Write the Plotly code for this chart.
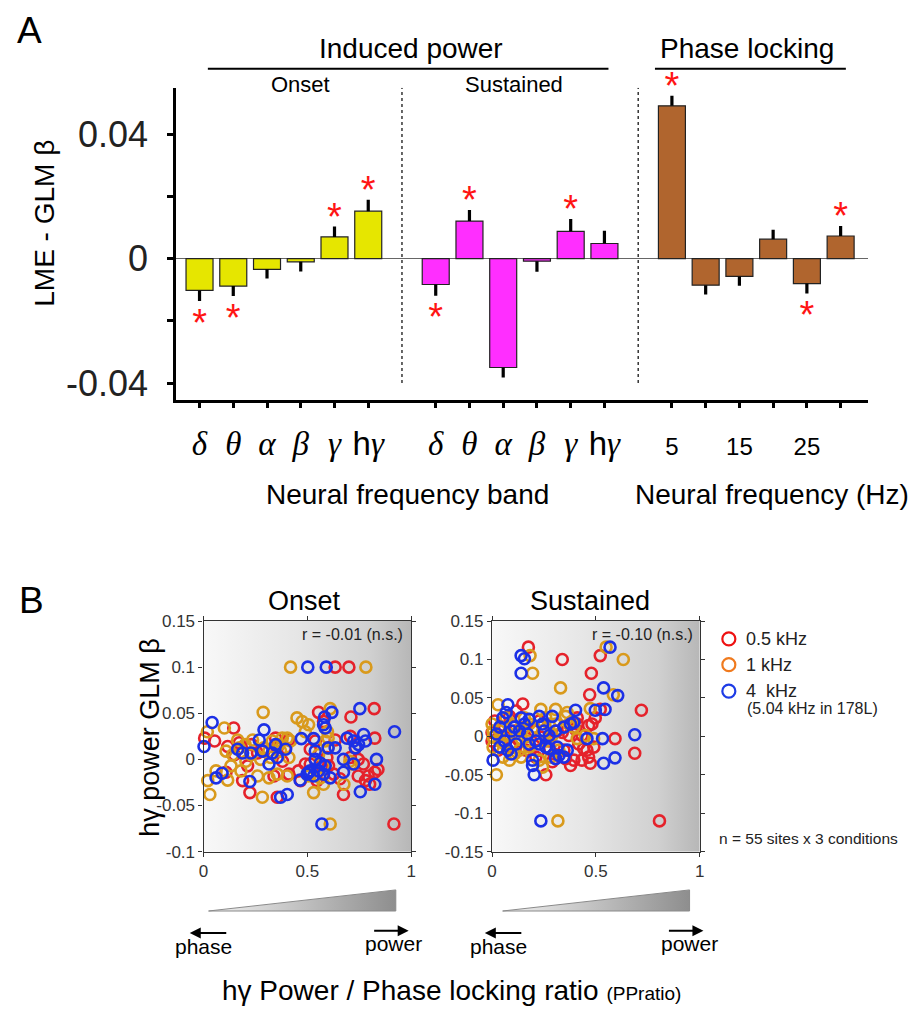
import plotly.graph_objects as go

W, H = 921, 1019
OFF = 8  # page body margin
def px(x): return (x - OFF) / W
def py(y): return 1 - (y - OFF) / H

FONT = "Liberation Sans"

# ---------------- Panel A data ----------------
band_labels = ['δ', 'θ', 'α', 'β', 'γ', 'hγ']
phase_freqs = [5, 10, 15, 20, 25, 30]
phase_tick_labels = ['5', '', '15', '', '25', '']

onset_beta = [-0.0102, -0.0088, -0.0034, -0.0010, 0.0070, 0.0153]
onset_err = [0.0034, 0.0032, 0.0030, 0.0031, 0.0034, 0.0037]
onset_sig = [1, 1, 0, 0, 1, 1]

sust_beta = [-0.0083, 0.0121, -0.0350, -0.0008, 0.0088, 0.0049]
sust_err = [0.0036, 0.0036, 0.0032, 0.0034, 0.0040, 0.0041]
sust_sig = [1, 1, 1, 0, 1, 0]

phase_beta = [0.0492, -0.0085, -0.0057, 0.0063, -0.0080, 0.0073]
phase_err = [0.0032, 0.0030, 0.0030, 0.0030, 0.0032, 0.0032]
phase_sig = [1, 0, 0, 0, 1, 1]

# ---------------- Panel B data ----------------
on_red_x = [0.634,0.70,0.917,0.822,0.71,0.554,0.578,0.145,0.005,0.116,0.232,0.347,0.411,0.355,0.212,0.188,0.223,0.355,0.411,0.467,0.514,0.538,0.514,0.57,0.594,0.657,0.674,0.745,0.745,0.825,0.793,0.825,0.8,0.634,0.732,0.707,0.108,0.148,0.29,0.395,0.554,0.602,0.49,0.707,0.77,0.053,0.457,0.339,0.26,0.172,0.84,0.78,0.546,0.627,0.38]
on_red_y = [0.1,0.1,-0.07,0.055,0.046,0.051,0.041,0.034,0.023,0.014,0.016,0.023,0.021,0.0125,-0.007,-0.023,-0.036,-0.041,-0.016,-0.023,0.011,0.02,-0.005,-0.007,0.002,-0.021,-0.038,0,-0.018,0.023,-0.018,-0.014,-0.027,0.021,0.0125,0.002,-0.014,0.005,0.009,0.0125,-0.0125,-0.007,-0.005,0.025,-0.005,0.02,-0.0125,-0.018,0.007,0.018,-0.011,-0.023,-0.023,-0.016,-0.002]
on_gold_x = [0.419,0.782,0.287,0.61,0.10,0.45,0.475,0.506,0.49,0.018,0.164,0.108,0.236,0.29,0.379,0.403,0.419,0.363,0.586,0.597,0.6,0.323,0.275,0.18,0.26,0.315,0.355,0.403,0.02,0.116,0.03,0.283,0.53,0.578,0.61,0.705,0.713,0.538,0.506,0.204,0.14,0.228,0.331,0.371,0.2,0.578,0.562,0.06,0.172,0.6,0.554,0.411,0.132,0.315,0.676]
on_gold_y = [0.1,0.1,0.051,0.055,0.034,0.045,0.041,0.0375,0.03,0.03,0.021,0.009,0.021,0.0125,0.023,0.023,0.02,0.016,0.02,0.03,0.0125,0.002,0,-0.0125,-0.018,-0.02,-0.016,-0.018,-0.023,-0.0225,-0.038,-0.041,-0.036,-0.027,-0.07,-0.002,-0.005,-0.011,-0.018,-0.002,0.005,0.005,0.02,0.009,0.016,-0.007,-0.02,-0.0125,0.0125,0.023,0.005,0.002,-0.007,0.009,-0.027]
on_blue_x = [0.502,0.591,0.57,0.92,0.753,0.618,0.583,0.578,0.586,0.041,0.002,0.06,0.089,0.164,0.228,0.223,0.268,0.291,0.283,0.315,0.347,0.355,0.395,0.371,0.403,0.471,0.53,0.538,0.538,0.465,0.498,0.506,0.53,0.554,0.578,0.61,0.6,0.634,0.674,0.674,0.691,0.723,0.731,0.723,0.771,0.78,0.833,0.825,0.755,0.747,0.586,0.562,0.188,0.331,0.514]
on_blue_y = [0.1,0.1,-0.07,0.03,0.055,0.051,0.046,0.0375,0.034,0.04,0.014,-0.02,-0.015,0.011,0.007,-0.024,0.021,0.032,0.009,-0.005,0.016,0.002,0.011,-0.041,-0.038,0.0225,0.0225,0.009,0,-0.0225,-0.016,-0.014,-0.018,-0.0125,-0.016,-0.02,0.0125,0.0125,0,-0.014,0.023,0.02,0.0125,-0.005,0.027,0.02,0,-0.027,-0.035,0.016,-0.007,-0.004,0.007,0.007,-0.0125]

su_red_x = [0.175,0.338,0.521,0.478,0.47,0.719,0.806,0.687,0.592,0.148,0.116,0.013,0.0,0.0,0.092,0.179,0.227,0.227,0.259,0.29,0.354,0.378,0.338,0.41,0.433,0.465,0.481,0.497,0.457,0.473,0.465,0.49,0.441,0.521,0.402,0.163,0.203,0.06,0.275,0.298,0.132,0.314,0.417,0.037,0.235,0.37,0.029,0.108,0.394,0.346,0.211,0.433,0.084,0.163,0.41]
su_red_y = [0.116,0.1,0.105,0.082,0.054,0.034,-0.11,-0.022,-0.003,0.042,0.033,0.02,0.005,-0.006,-0.014,-0.012,0.02,-0.018,-0.05,-0.033,-0.029,-0.038,0.005,0.024,0.001,0.014,0.016,0.024,-0.018,-0.035,-0.027,-0.014,-0.016,0.035,0.009,0.012,0.007,0.012,-0.006,-0.023,-0.006,0.007,-0.01,0.001,-0.001,0.001,-0.018,0.007,-0.031,-0.018,-0.027,-0.031,0.026,-0.018,0.016]
su_gold_x = [0.183,0.195,0.33,0.632,0.549,0.584,0.473,0.021,0.317,0.029,0.0,0.005,0.005,0.037,0.092,0.084,0.132,0.14,0.156,0.179,0.235,0.259,0.243,0.227,0.243,0.306,0.362,0.354,0.37,0.394,0.41,0.037,0.06,0.116,0.171,0.29,0.275,0.211,0.14,0.068,0.322,0.203,0.005,0.449,0.108,0.283,0.179,0.052,0.068,0.346,0.306,0.259,0.148,0.386,0.489]
su_gold_y = [0.105,0.082,0.063,0.1,0.116,0.054,0.036,-0.05,-0.11,0.041,0.016,-0.001,-0.014,0.007,0.016,-0.031,-0.018,-0.027,0.024,0.016,0.035,0.024,0.007,-0.031,-0.04,0.035,0.031,0.026,0.016,0.012,-0.003,-0.006,-0.01,0.003,-0.006,0.001,0.016,-0.006,-0.003,0.024,-0.018,0.012,0.007,0.001,-0.023,-0.027,-0.014,-0.027,0.001,0.012,0.016,-0.006,0.009,0.02,-0.003]
su_blue_x = [0.568,0.14,0.156,0.14,0.537,0.605,0.497,0.544,0.687,0.592,0.537,0.532,0.457,0.235,0.005,0.076,0.068,0.037,0.06,0.076,0.092,0.037,0.108,0.132,0.156,0.179,0.195,0.195,0.203,0.211,0.227,0.243,0.259,0.275,0.29,0.306,0.314,0.322,0.346,0.362,0.378,0.394,0.402,0.306,0.251,0.171,0.092,0.052,0.021,0.227,0.116,0.179,0.275,0.14,0.346]
su_blue_y = [0.116,0.105,0.101,0.082,0.063,0.053,0.034,0.035,0.002,-0.028,-0.035,-0.003,-0.003,-0.11,-0.031,0.041,0.031,0.012,-0.006,-0.018,-0.023,-0.014,0.012,0.007,0.016,0.022,-0.031,-0.038,-0.05,-0.006,-0.01,0.016,-0.014,0.001,0.026,-0.029,-0.014,-0.025,0.012,-0.018,0.016,0.018,0.034,0.007,0.007,0.003,0.007,0.024,0.003,0.026,-0.01,-0.01,-0.016,0.024,-0.027]

r_onset = -0.01
r_sust = -0.10
legend_names = ['0.5 kHz', '1 kHz', '4\u00a0 kHz']

# ---------------- styles ----------------
BAR_COLORS = ['#E6E600', '#FF2EFF', '#B0652E']
RED, GOLD, BLUE = '#E5222B', '#D99A1C', '#1C30E6'
LEG_COLORS = ['#EE1111', '#F07A1E', '#1E3CE6']
STAR = '#FF1414'

fig = go.Figure()

# ---------------- Panel A ----------------
groups = [(onset_beta, onset_err, onset_sig), (sust_beta, sust_err, sust_sig), (phase_beta, phase_err, phase_sig)]
tickvals, ticktext = [], []
star_x, star_y = [], []
for g, (vals, errs, sig) in enumerate(groups):
    xs = [g * 7 + i for i in range(len(vals))]
    plus = [e if v >= 0 else 0 for v, e in zip(vals, errs)]
    minus = [e if v < 0 else 0 for v, e in zip(vals, errs)]
    fig.add_trace(go.Bar(
        x=xs, y=vals, width=0.8, xaxis='x', yaxis='y',
        marker=dict(color=BAR_COLORS[g], line=dict(color='#222', width=1.2)),
        error_y=dict(type='data', symmetric=False, array=plus, arrayminus=minus,
                     color='black', thickness=3.2, width=0),
        showlegend=False, hoverinfo='skip'))
    for x, v, e, s in zip(xs, vals, errs, sig):
        if s:
            star_x.append(x)
            if v >= 0:
                star_y.append(v + e + 0.0044 - 0.0024)
            else:
                star_y.append(v - e - 0.0057 - 0.0024)
    tickvals += xs
    if g < 2:
        for lab in band_labels:
            if lab.startswith('h'):
                ticktext.append('h<span style="font-family:Liberation Serif"><i>%s</i></span>' % lab[1:])
            else:
                ticktext.append('<span style="font-family:Liberation Serif"><i>%s</i></span>' % lab)
    else:
        for lab in phase_tick_labels:
            ticktext.append('<span style="font-size:24px">%s</span>' % lab)

fig.add_trace(go.Scatter(x=star_x, y=star_y, mode='text', text=['*'] * len(star_x),
                         textposition='middle center', cliponaxis=False,
                         textfont=dict(family=FONT, size=38, color=STAR),
                         xaxis='x', yaxis='y', showlegend=False, hoverinfo='skip'))

# ---------------- Panel B ----------------
def bg(xa, ya, y0, y1):
    fig.add_trace(go.Scatter(x=[0, 1, 1, 0, 0], y=[y0, y0, y1, y1, y0], mode='lines',
                             fill='toself', line=dict(width=0),
                             fillgradient=dict(type='horizontal',
                                               colorscale=[[0, '#f8f8f8'], [0.45, '#e6e6e6'], [0.8, '#d0d0d0'], [1, '#b7b7b7']]),
                             xaxis=xa, yaxis=ya, showlegend=False, hoverinfo='skip'))

bg('x2', 'y2', -0.1, 0.15)
bg('x3', 'y3', -0.15, 0.15)

def pts(xs, ys, c, xa, ya):
    fig.add_trace(go.Scatter(x=xs, y=ys, mode='markers', xaxis=xa, yaxis=ya,
                             marker=dict(symbol='circle-open', size=11, color=c, line=dict(width=2.6)),
                             showlegend=False, hoverinfo='skip', cliponaxis=False))

pts(on_red_x, on_red_y, RED, 'x2', 'y2')
pts(on_gold_x, on_gold_y, GOLD, 'x2', 'y2')
pts(on_blue_x, on_blue_y, BLUE, 'x2', 'y2')
pts(su_red_x, su_red_y, RED, 'x3', 'y3')
pts(su_gold_x, su_gold_y, GOLD, 'x3', 'y3')
pts(su_blue_x, su_blue_y, BLUE, 'x3', 'y3')

# overlay pixel axes (page pixel coordinates): wedges and legend markers
for x0, x1 in [(205.7, 395), (503, 692)]:
    fig.add_trace(go.Scatter(x=[x0, x1, x1, x0], y=[919, 919, 897.5, 919], mode='lines',
                             fill='toself', line=dict(color='#8a8a8a', width=1),
                             fillgradient=dict(type='horizontal', colorscale=[[0, '#f2f2f2'], [1, '#8e8e8e']]),
                             xaxis='x4', yaxis='y4', showlegend=False, hoverinfo='skip'))

leg_y = [641.7, 668, 695]
fig.add_trace(go.Scatter(x=[731.7] * 3, y=leg_y, mode='markers', xaxis='x4', yaxis='y4',
                         marker=dict(symbol='circle-open', size=13, color=LEG_COLORS, line=dict(width=2.2)),
                         showlegend=False, hoverinfo='skip'))

# ---------------- Layout ----------------
tickA = dict(ticks='outside', ticklen=6, tickwidth=2.5, tickcolor='black',
             showline=True, linewidth=2.5, linecolor='black', showgrid=False)
fig.update_layout(
    width=W, height=H, margin=dict(l=0, r=0, t=0, b=0),
    paper_bgcolor='white', plot_bgcolor='rgba(0,0,0,0)',
    font=dict(family=FONT, color='black'),
    xaxis=dict(domain=[px(172.7), px(872)], range=[-0.7, 19.8], anchor='y',
               tickvals=tickvals, ticktext=ticktext, tickfont=dict(size=33, family=FONT),
               ticklabelstandoff=7, zeroline=False, **tickA),
    yaxis=dict(domain=[py(398), py(80)], range=[-0.04537, 0.05503], anchor='x',
               tickvals=[-0.04, -0.02, 0, 0.02, 0.04], ticktext=['-0.04', '', '0', '', '0.04'],
               tickfont=dict(size=36, family=FONT, color='#222'), ticklabelstandoff=12,
               zeroline=True, zerolinecolor='#666', zerolinewidth=1.2, **tickA),
)

tickB = dict(ticks='outside', ticklen=4, tickwidth=1.2, tickcolor='#333', mirror='ticks',
             showline=True, linewidth=1.3, linecolor='#333', showgrid=False, zeroline=False,
             tickfont=dict(size=17, family=FONT, color='#333'))
fig.update_layout(
    xaxis2=dict(domain=[px(200.7), px(410.5)], range=[0, 1], anchor='y2',
                tickvals=[0, 0.5, 1], ticktext=['0', '0.5', '1'], **tickB),
    yaxis2=dict(domain=[py(858.5), py(623.5)], range=[-0.1, 0.15], anchor='x2',
                tickvals=[-0.1, -0.05, 0, 0.05, 0.1, 0.15],
                ticktext=['-0.1', '-0.05', '0', '0.05', '0.1', '0.15'], **tickB),
    xaxis3=dict(domain=[px(492.3), px(702.3)], range=[0, 1], anchor='y3',
                tickvals=[0, 0.5, 1], ticktext=['0', '0.5', '1'], **tickB),
    yaxis3=dict(domain=[py(858.5), py(623.5)], range=[-0.15, 0.15], anchor='x3',
                tickvals=[-0.15, -0.1, -0.05, 0, 0.05, 0.1, 0.15],
                ticktext=['-0.15', '-0.1', '-0.05', '0', '0.05', '0.1', '0.15'], **tickB),
    xaxis4=dict(domain=[0, 1], range=[OFF, W + OFF], anchor='y4', visible=False, fixedrange=True),
    yaxis4=dict(domain=[0, 1], range=[H + OFF, OFF], anchor='x4', visible=False, fixedrange=True),
)

# ---------------- shapes ----------------
shapes = []
for x0, x1 in [(205, 610), (657, 850)]:
    shapes.append(dict(type='line', xref='paper', yref='paper', x0=px(x0), x1=px(x1),
                       y0=py(60.7), y1=py(60.7), line=dict(color='black', width=2)))
for xd in [6, 13]:
    shapes.append(dict(type='line', xref='x', yref='y', x0=xd, x1=xd, y0=-0.04, y1=0.055,
                       line=dict(color='black', width=1.2, dash='dot')))
fig.update_layout(shapes=shapes)

# ---------------- annotations ----------------
ann = []
def T(text, x, y, size, xanchor='center', yanchor='middle', color='black', angle=0, family=FONT):
    ann.append(dict(text=text, x=px(x), y=py(y), xref='paper', yref='paper', showarrow=False,
                    xanchor=xanchor, yanchor=yanchor, textangle=angle,
                    font=dict(size=size, color=color, family=family)))

T('A', 25, 22, 37)
T('B', 27, 603, 37)
T('Induced power', 410, 40, 28)
T('Phase locking', 750.5, 40, 28)
T('Onset', 298.5, 77, 22)
T('Sustained', 515, 77, 22)
T('LME - GLM β', 39, 218, 28, angle=-90)
T('Neural frequency band', 407, 495, 28)
T('Neural frequency (Hz)', 775, 495, 28)

T('Onset', 303, 603, 27)
T('Sustained', 591, 603, 27)
T('r = %.2f (n.s.)' % r_onset, 404, 637, 16, xanchor='right', color='#222')
T('r = %.2f (n.s.)' % r_sust, 697, 637, 16, xanchor='right', color='#222')
for name, yy in zip(legend_names, leg_y):
    T(name, 747, yy, 18, xanchor='left', color='#222')
T('(5.04 kHz in 178L)', 748, 713, 16, xanchor='left', color='#222')
T('n = 55 sites x 3 conditions', 720, 845, 15.5, xanchor='left', color='#222')
T('hγ power GLM β', 147, 742, 27, angle=-90)
T('hγ Power / Phase locking ratio <span style="font-size:19px">(PPratio)</span>', 451, 1000, 28)
T('phase', 201, 955, 21)
T('power', 392.7, 952, 21)
T('phase', 499, 955, 21)
T('power', 692, 952, 21)

# arrows
for hx, hy, dx in [(186.7, 941.5, 38), (408, 939, -36), (485, 941.5, 38), (706, 939, -36)]:
    ann.append(dict(x=px(hx), y=py(hy), xref='paper', yref='paper', ax=dx, ay=0,
                    showarrow=True, arrowhead=2, arrowsize=1.1, arrowwidth=2, arrowcolor='black', text=''))

fig.update_layout(annotations=ann)

fig.write_html("out.html", config={'displayModeBar': False})
